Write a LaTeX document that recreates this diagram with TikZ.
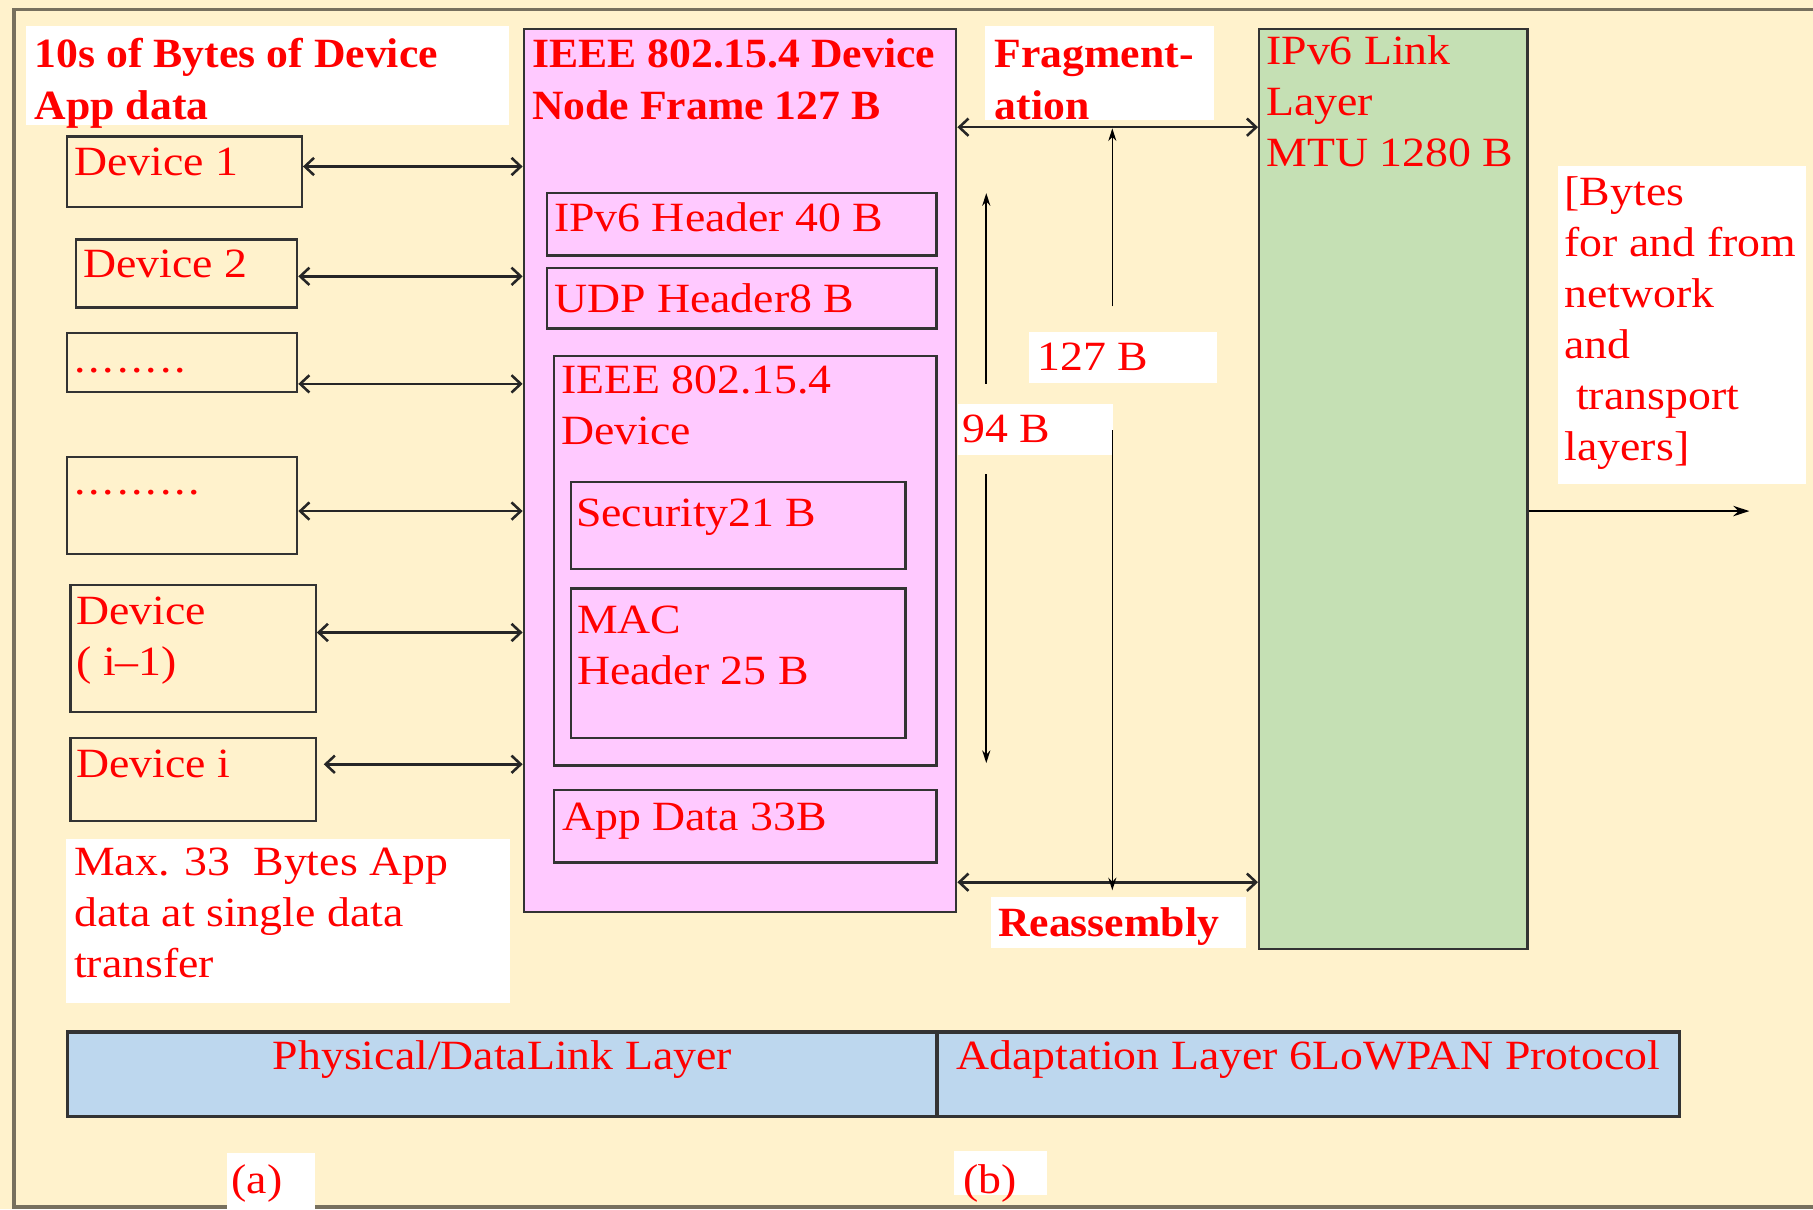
\documentclass[tikz,border=0pt]{standalone}
\usepackage{fontspec}
\setmainfont{Liberation Serif}[FakeStretch=1.1]
\newfontfamily\bfam{Liberation Serif}[FakeStretch=1.05]
\usetikzlibrary{arrows.meta,calc}
\definecolor{bgc}{HTML}{FFF2CC}
\definecolor{framec}{HTML}{77705E}
\definecolor{bordc}{HTML}{333333}
\definecolor{pinkc}{HTML}{FFC9FF}
\definecolor{greenc}{HTML}{C5E0B4}
\definecolor{bluec}{HTML}{BDD7EE}
\definecolor{redc}{HTML}{FF0000}
\newcommand\mlines[1]{\begin{tabular}[t]{@{}l@{}}#1\end{tabular}}
\newcommand\dd{.\kern2.5pt}
\begin{document}
\begin{tikzpicture}[x=1pt,y=-1pt,
  box/.style={draw=bordc, line width=2pt, anchor=north west, inner sep=0pt},
  wbox/.style={fill=white, draw=none, anchor=north west, inner sep=0pt},
  lbl/.style={text=redc, font=\fontsize{36}{44}\selectfont, inner sep=0pt, anchor=base west},
  blbl/.style={lbl, font=\fontsize{36}{45}\selectfont\bfam\bfseries},
  dbl/.style={draw=black!85, line width=2.2pt, {Straight Barb[length=8pt,width=15pt]}-{Straight Barb[length=8pt,width=15pt]}},
  vtip/.style={draw=black, line width=1.4pt, -{Stealth[length=11pt,width=7pt]}}]
\fill[bgc] (0,0) rectangle (1568,1046);
\useasboundingbox (0,0) rectangle (1568,1046);
\draw[framec, line width=3pt] (1568,8) -- (12,8) -- (12,1044) -- (1568,1044);

% title left
\node[wbox, minimum width=418pt, minimum height=86pt] (tl) at (22,22) {};
\node[blbl] at (30,58) {\mlines{10s of Bytes of Device\\App data}};

% devices
\node[box, minimum width=203pt, minimum height=61pt] (d1) at (57,117) {};
\node[lbl] at (64,152) {Device 1};
\node[box, minimum width=191pt, minimum height=59pt] (d2) at (65,206) {};
\node[lbl] at (72,240) {Device 2};
\node[box, minimum width=199pt, minimum height=51pt] (d3) at (57,287) {};
\node[lbl] at (64,322) {\dd\dd\dd\dd\dd\dd\dd.};
\node[box, minimum width=199pt, minimum height=84pt] (d4) at (57,394) {};
\node[lbl] at (64,428) {\dd\dd\dd\dd\dd\dd\dd\dd.};
\node[box, minimum width=212pt, minimum height=110pt] (d5) at (60,505) {};
\node[lbl] at (66,540) {\mlines{Device\\( i–1)}};
\node[box, minimum width=212pt, minimum height=72pt] (d6) at (60,637) {};
\node[lbl] at (66,672) {Device i};

% max text
\node[wbox, minimum width=384pt, minimum height=142pt] (mx) at (57,725) {};
\node[lbl] at (64,757) {\mlines{Max. 33~\ Bytes App\\data at single data\\transfer}};

% pink frame
\node[box, fill=pinkc, minimum width=374pt, minimum height=764pt] (pf) at (452,24) {};
\node[blbl] at (460,58) {\mlines{IEEE 802.15.4 Device\\Node Frame 127 B}};
\node[box, minimum width=337pt, minimum height=54pt] (ip) at (472,166) {};
\node[lbl] at (479,200) {IPv6 Header 40 B};
\node[box, minimum width=337pt, minimum height=52pt] (udp) at (472,231) {};
\node[lbl] at (479,270) {UDP Header8 B};
\node[box, minimum width=331pt, minimum height=354pt] (ie) at (478,307) {};
\node[lbl] at (485,340) {\mlines{IEEE 802.15.4\\Device}};
\node[box, minimum width=289pt, minimum height=75pt] (sec) at (493,416) {};
\node[lbl] at (498,455) {Security21 B};
\node[box, minimum width=289pt, minimum height=129pt] (mac) at (493,508) {};
\node[lbl] at (499,548) {\mlines{MAC\\Header 25 B}};
\node[box, minimum width=331pt, minimum height=63pt] (app) at (478,682) {};
\node[lbl] at (486,718) {App Data 33B};

% device arrows
\draw[dbl] (d1.east |- 0,144) -- (pf.west |- 0,144);
\draw[dbl] (d2.east |- 0,239) -- (pf.west |- 0,239);
\draw[dbl] (d3.east |- 0,332) -- (pf.west |- 0,332);
\draw[dbl] (d4.east |- 0,442) -- (pf.west |- 0,442);
\draw[dbl] (d5.east |- 0,547) -- (pf.west |- 0,547);
\draw[dbl, shorten <=6pt] (d6.east |- 0,661) -- (pf.west |- 0,661);

% fragmentation
\node[wbox, minimum width=198pt, minimum height=82pt] (fr) at (852,22) {};
\node[blbl] at (860,58) {\mlines{Fragment-\\ation}};

% green
\node[box, fill=greenc, minimum width=232pt, minimum height=796pt] (gr) at (1088,24) {};
\node[lbl] at (1095,56) {\mlines{IPv6 Link\\Layer\\MTU 1280 B}};

% horizontal arrows
\draw[dbl] (pf.east |- 0,110) -- (gr.west |- 0,110);
\draw[dbl] (pf.east |- 0,763) -- (gr.west |- 0,763);

% size labels
\node[wbox, minimum width=162pt, minimum height=44pt] (s127) at (890,287) {};
\node[lbl] at (897,320) {127 B};
\node[wbox, minimum width=134pt, minimum height=44pt] (s94) at (828,349) {};
\node[lbl] at (832,383) {94 B};

\coordinate (a1) at (962,265);
\coordinate (a2) at (962,372);
\coordinate (b1) at (853,332);
\coordinate (b2) at (853,410);
\draw[vtip] (a1) -- (a1 |- 0,111);
\draw[vtip] (a2) -- (a2 |- 0,770);
\draw[vtip] (b1) -- (853,167);
\draw[vtip] (b2) -- (853,660);

% reassembly
\node[wbox, minimum width=220pt, minimum height=44pt] (re) at (857,776) {};
\node[blbl] at (863,810) {Reassembly};

% right text
\node[wbox, minimum width=215pt, minimum height=275pt] (rt) at (1347,143) {};
\node[lbl] at (1353,178) {\mlines{[Bytes\\for and from\\network\\and\\\hspace{10pt}transport\\layers]}};
\coordinate (out) at (1513,442);
\draw[draw=black, line width=1.8pt, -{Stealth[length=14pt,width=9pt]}] (gr.east |- out) -- (out);

% bottom bar
\node[box, line width=3pt, fill=bluec, minimum width=752pt, minimum height=73pt] (bl) at (57,891) {};
\node[box, line width=3pt, fill=bluec, minimum width=642pt, minimum height=73pt] (br) at (809,891) {};
\node[lbl, anchor=base] at ($(bl.north)+(0,34)$) {Physical/DataLink Layer};
\node[lbl, anchor=base] at ($(br.north)+(0,34)$) {Adaptation Layer 6LoWPAN Protocol};

% (a) (b)
\node[wbox, minimum width=76pt, minimum height=49pt] (la) at (196,997) {};
\node[lbl] at (200,1032) {(a)};
\node[wbox, minimum width=80pt, minimum height=38pt] (lb) at (825,995) {};
\node[lbl] at (833,1032) {(b)};
\end{tikzpicture}
\end{document}
